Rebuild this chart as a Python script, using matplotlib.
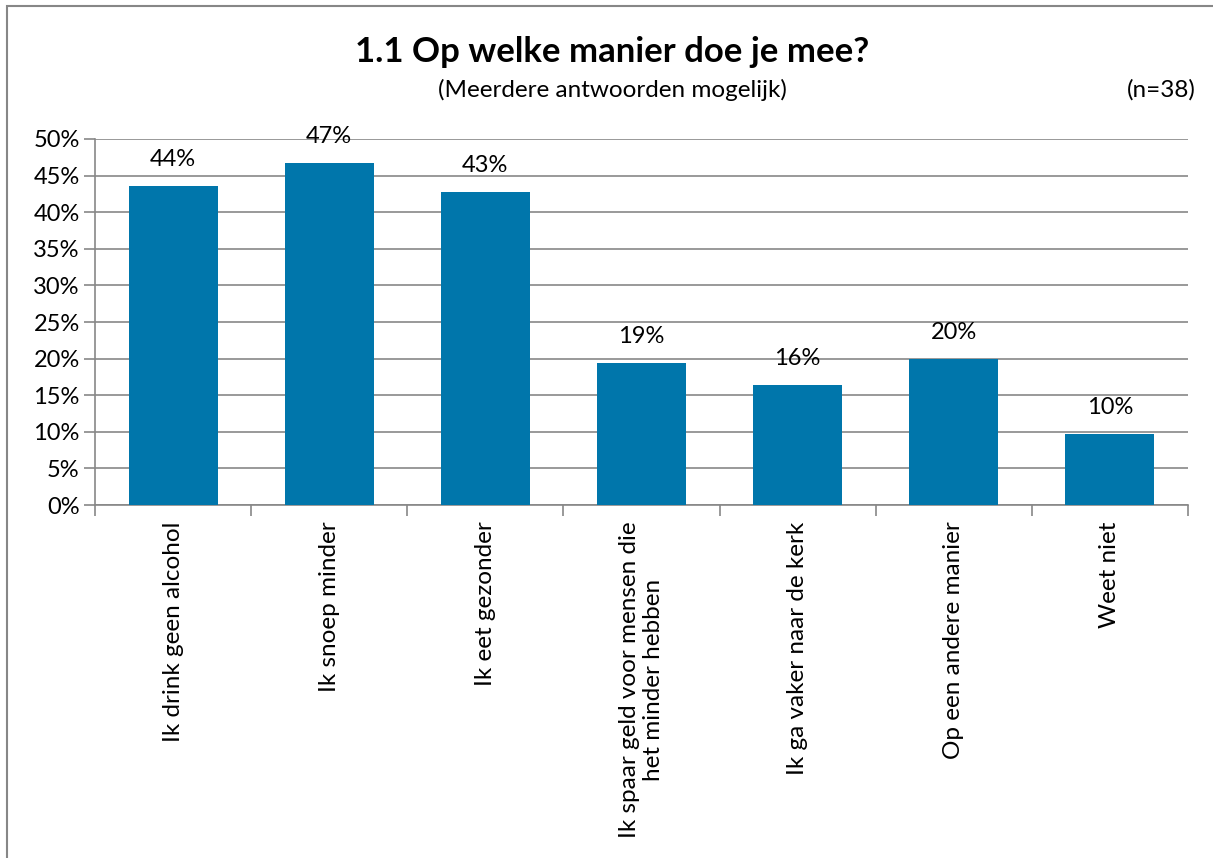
import matplotlib.pyplot as plt
from matplotlib.patches import Rectangle

plt.rcParams['font.family'] = ['Lato', 'DejaVu Sans']

# Data
categorieen = [
    "Ik drink geen alcohol",
    "Ik snoep minder",
    "Ik eet gezonder",
    "Ik spaar geld voor mensen die\nhet minder hebben",
    "Ik ga vaker naar de kerk",
    "Op een andere manier",
    "Weet niet",
]
percentages = [43.6, 46.7, 42.8, 19.4, 16.4, 19.9, 9.7]
labels = ["44%", "47%", "43%", "19%", "16%", "20%", "10%"]
yticks = [0, 5, 10, 15, 20, 25, 30, 35, 40, 45, 50]

fig = plt.figure(figsize=(12.13, 8.58), dpi=100)
ax = fig.add_axes([0.0783, 0.4114, 0.9011, 0.4266])

grijs = "#878787"
x = range(len(categorieen))
ax.bar(x, percentages, width=0.57, color="#0076AB", zorder=3)

for xi, v, lab in zip(x, percentages, labels):
    ax.text(xi, v + 2.2, lab, ha="center", va="bottom", fontsize=17)

ax.set_xlim(-0.5, len(categorieen) - 0.5)
ax.set_ylim(0, 50)
ax.set_yticks(yticks)
ax.set_yticklabels([f"{t}%" for t in yticks], fontsize=17)
ax.yaxis.grid(True, color=grijs, linewidth=1.2, zorder=0)

ax.set_xticks([i + 0.5 for i in range(-1, len(categorieen))])
ax.set_xticklabels([])
ax.set_xticks(list(x), minor=True)
ax.set_xticklabels(categorieen, minor=True, rotation=90, fontsize=17.5,
                   ha="center", va="top", multialignment="center")
ax.tick_params(axis="x", which="minor", length=0, pad=12)
ax.tick_params(axis="x", which="major", length=8, color=grijs, width=1.2)
ax.tick_params(axis="y", length=8, color=grijs, width=1.2, pad=3)

for s in ["top", "right"]:
    ax.spines[s].set_visible(False)
for s in ["left", "bottom"]:
    ax.spines[s].set_color(grijs)
    ax.spines[s].set_linewidth(1.2)

fig.text(0.5045, 0.939, "1.1 Op welke manier doe je mee?", ha="center",
         va="center", fontsize=25, fontweight="bold")
fig.text(0.5045, 0.895, "(Meerdere antwoorden mogelijk)", ha="center",
         va="center", fontsize=17.5)
fig.text(0.986, 0.895, "(n=38)", ha="right", va="center", fontsize=17.5)

fig.patches.append(Rectangle((7 / 1213, -0.1), 1.2, 1 - 6 / 858 + 0.1,
                             transform=fig.transFigure, fill=False,
                             edgecolor=grijs, linewidth=1.5))

fig.savefig("out.png", dpi=100)
